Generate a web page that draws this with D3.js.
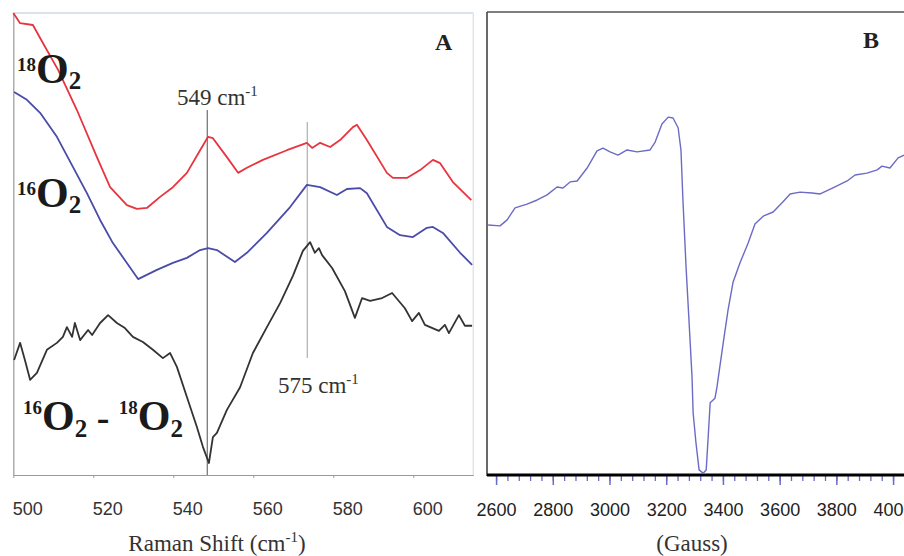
<!DOCTYPE html>
<html>
<head>
<meta charset="utf-8">
<script src="https://cdn.jsdelivr.net/npm/d3@7"></script>
<style>
  body { margin: 0; background: #fff; }
  svg { display: block; }
  text { white-space: pre; }
</style>
</head>
<body>
<div id="chart"></div>
<script>
// ---- panel A data: Raman shift (cm-1), intensity (arb. units) ----
var spectrum18 = [[500,100],[501.7,97.8],[504.9,97.4],[507.4,93.5],[511.2,87.7],[515.9,79.0],[520.9,68.8],[524.2,62.3],
  [528.4,58.4],[530.9,57.6],[533.4,57.8],[536.7,60.2],[539.9,62.3],[543.4,65.4],[546.7,70.3],[548.7,73.2],[549.9,72.9],
  [553.4,68.8],[556.2,65.4],[558.4,66.5],[562.4,68.2],[568.4,70.3],[573.4,71.9],[574.7,70.8],[576.7,71.9],[579.2,71.0],
  [581.7,72.5],[584.9,75.3],[585.9,75.8],[588.4,72.5],[593.4,65.4],[594.9,64.3],[598.4,64.3],[601.7,66.0],[604.9,68.2],
  [606.7,67.5],[609.9,63.4],[614.5,59.5]];
var spectrum16 = [[500.2,82.9],[503.4,81.2],[506.7,78.4],[510.9,73.2],[514.9,66.7],[518.4,61.0],[521.7,55.2],[524.9,50.2],
  [528.4,45.9],[531.2,42.4],[535.9,44.4],[539.9,45.9],[543.4,47.0],[546.7,48.7],[548.7,49.1],[550.9,48.7],[555.4,46.1],
  [558.4,48.1],[563.4,52.4],[569.2,58.0],[573.4,62.8],[576.7,62.3],[580.9,60.6],[583.4,61.9],[586.7,62.1],[588.4,61.0],
  [593.4,53.7],[596.7,51.9],[599.9,51.5],[603.4,53.5],[604.9,53.7],[607.4,52.4],[611.7,48.1],[614.7,45.5]];
var spectrumDiff = [[500.2,24.9],[501.7,28.6],[502.9,24.9],[504.2,20.6],[505.9,22.1],[508.4,27.1],[510.9,28.6],[512.4,29.9],
  [513.4,32.0],[514.7,29.9],[515.4,32.9],[516.7,29.2],[518.7,31.4],[519.7,30.3],[521.7,32.9],[523.7,34.6],[525.9,32.9],
  [527.9,31.8],[529.9,29.9],[532.4,28.8],[534.9,27.1],[537.4,25.3],[539.2,26.4],[540.9,23.4],[543.4,16.9],[545.9,10.4],
  [547.4,6.1],[548.9,2.6],[549.9,8.2],[550.9,9.1],[553.4,14.1],[556.7,19.0],[559.9,26.4],[563.4,32.0],[566.7,37.2],
  [569.9,43.1],[572.4,48.5],[574.2,50.4],[575.4,48.1],[576.4,49.1],[577.2,47.6],[579.7,44.8],[582.9,39.8],[585.4,34.0],
  [587.2,38.3],[589.2,37.7],[592.2,38.3],[594.7,39.4],[597.9,36.1],[599.7,33.3],[601.4,35.1],[602.9,32.5],[606.4,31.2],
  [607.9,32.5],[608.9,30.7],[611.4,34.6],[612.9,32.3],[614.7,32.3]];
var ramanTicks = [500, 520, 540, 560, 580, 600];
// marker lines: position, from, to (intensity units), label
var markerPos = [548.5, 573.5];
var markerSpan = [[0, 79], [25.3, 76.4]];
var markerText = ["549", "575"];

// ---- panel B data: field (Gauss), EPR signal (arb. units) ----
var eprField = [2572,2614,2639,2667,2709,2745,2780,2815,2836,2861,2886,2921,2956,2977,3002,3030,3062,3097,3143,3161,
  3185,3207,3224,3242,3252,3259,3270,3277,3284,3291,3295,3305,3316,3330,3341,3348,3355,3372,3379,3390,3404,3418,3436,
  3460,3489,3513,3542,3577,3612,3637,3672,3714,3743,3788,3838,3866,3908,3944,3961,3989,4018,4039];
var eprSignal = [54.0,53.8,55.1,57.7,58.5,59.4,60.5,62.2,62.0,63.3,63.5,66.3,70.0,70.6,69.8,69.1,70.2,69.8,70.2,71.9,
  75.8,77.3,77.1,75.0,70.2,59.4,44.9,37.1,29.2,21.2,13.4,6.9,1.1,0.4,1.1,8.2,15.6,16.6,19.0,23.8,29.8,35.6,41.7,
  45.8,50.1,54.2,55.9,56.8,59.0,60.7,61.1,60.9,60.7,62.0,63.5,64.8,65.2,65.9,66.7,66.3,68.5,69.1];
var gaussTicks = [2600, 2800, 3000, 3200, 3400, 3600, 3800, 4000];

var width = 904, height = 556;
var svg = d3.select("#chart").append("svg").attr("width", width).attr("height", height);
svg.append("rect").attr("width", width).attr("height", height).attr("fill", "#fff");

var serif = "'Liberation Serif', 'Times New Roman', serif";
var sans = "'Liberation Sans', Arial, sans-serif";

// ================= panel A =================
var xA = d3.scaleLinear().domain([500, 615]).range([13.3, 473.3]);
var yA = d3.scaleLinear().domain([0, 100]).range([475, 13]);

svg.append("line").attr("x1", 13.3).attr("x2", 473.3).attr("y1", 13).attr("y2", 13)
   .attr("stroke", "#cfdae2").attr("stroke-width", 1.5);
svg.append("line").attr("x1", 473.3).attr("x2", 473.3).attr("y1", 13).attr("y2", 475)
   .attr("stroke", "#dfe5ea").attr("stroke-width", 1.5);

var axA = svg.append("g").attr("transform", "translate(0,475)")
  .call(d3.axisBottom(xA).tickValues(ramanTicks).tickSize(3).tickSizeOuter(0).tickPadding(24));
axA.select(".domain").attr("stroke", "#999").attr("stroke-width", 1.2);
axA.selectAll(".tick line").attr("stroke", "#999");
axA.selectAll(".tick text").attr("dx", 14).attr("font-size", 18).attr("font-family", sans).attr("fill", "#333");

var ayA = svg.append("g").attr("transform", "translate(13.3,0)")
  .call(d3.axisLeft(yA).tickValues([]).tickSizeOuter(0));
ayA.select(".domain").attr("stroke", "#999").attr("stroke-width", 1.2);

// marker lines
svg.selectAll(".marker").data(markerPos).enter().append("line")
  .attr("class", "marker")
  .attr("x1", function(d) { return xA(d); }).attr("x2", function(d) { return xA(d); })
  .attr("y1", function(d, i) { return yA(markerSpan[i][0]); })
  .attr("y2", function(d, i) { return yA(markerSpan[i][1]); })
  .attr("stroke", function(d, i) { return i == 0 ? "#7a7a7a" : "#b5b5b5"; })
  .attr("stroke-width", 1.3);

var lineA = d3.line().x(function(d) { return xA(d[0]); }).y(function(d) { return yA(d[1]); });
[[spectrum18, "#e8343f"], [spectrum16, "#4b4ba8"], [spectrumDiff, "#333"]].forEach(function(s) {
  svg.append("path").datum(s[0]).attr("d", lineA).attr("fill", "none")
     .attr("stroke", s[1]).attr("stroke-width", 1.8).attr("stroke-linejoin", "round");
});

// cm-1 labels
function cmLabel(x, y, num) {
  var t = svg.append("text").attr("x", x).attr("y", y).attr("font-family", serif)
    .attr("font-size", 23).attr("fill", "#333");
  t.append("tspan").text(num + " cm");
  t.append("tspan").attr("font-size", 15).attr("dy", -9).text("-1");
}
cmLabel(177, 105, markerText[0]);
cmLabel(278, 393, markerText[1]);

// isotope labels
function isoLabel(x, parts) {
  var t = svg.append("text").attr("x", x).attr("font-family", serif).attr("font-weight", "bold").attr("fill", "#1a1a1a");
  parts.forEach(function(p) {
    t.append("tspan").attr("y", p[2]).attr("font-size", p[1]).text(p[0]);
  });
}
isoLabel(17, [["18", 19, 71], ["O", 42, 83], ["2", 25, 89]]);
isoLabel(17, [["16", 19, 195], ["O", 42, 207], ["2", 25, 213]]);
isoLabel(23, [["16", 19, 414], ["O", 42, 430], ["2", 25, 437], [" - ", 38, 430], ["18", 19, 414], ["O", 42, 430], ["2", 25, 437]]);

svg.append("text").attr("x", 435).attr("y", 50).attr("font-family", serif).attr("font-weight", "bold")
   .attr("font-size", 24).attr("fill", "#222").text("A");

svg.append("text").attr("x", 217).attr("y", 551).attr("text-anchor", "middle").attr("font-family", serif)
   .attr("font-size", 23).attr("fill", "#333")
   .call(function(t) {
     t.append("tspan").text("Raman Shift (cm");
     t.append("tspan").attr("font-size", 15).attr("dy", -9).text("-1");
     t.append("tspan").attr("dy", 9).text(")");
   });

// ================= panel B =================
var xB = d3.scaleLinear().domain([2568, 4040]).range([487, 904.4]);
var yB = d3.scaleLinear().domain([0, 100]).range([475, 12]);

svg.append("line").attr("x1", 487).attr("x2", 906).attr("y1", 12).attr("y2", 12)
   .attr("stroke", "#555").attr("stroke-width", 1.6);
svg.append("line").attr("x1", 487).attr("x2", 487).attr("y1", 12).attr("y2", 476)
   .attr("stroke", "#444").attr("stroke-width", 1.6);

var minor = svg.append("g").attr("transform", "translate(0,476)")
  .call(d3.axisBottom(xB).tickValues(d3.range(2600, 4041, 40)).tickSize(5).tickFormat(""));
minor.select(".domain").remove();
minor.selectAll(".tick line").attr("stroke", "#6a6ac8").attr("stroke-width", 1.3);

var axB = svg.append("g").attr("transform", "translate(0,476)")
  .call(d3.axisBottom(xB).tickValues(gaussTicks).tickSize(9).tickPadding(18).tickFormat(d3.format("d")));
axB.select(".domain").remove();
axB.selectAll(".tick line").attr("stroke", "#6a6ac8").attr("stroke-width", 1.5);
axB.selectAll(".tick text").attr("font-size", 18).attr("font-family", sans).attr("fill", "#222");

svg.append("line").attr("x1", 487).attr("x2", 906).attr("y1", 475).attr("y2", 475)
   .attr("stroke", "#000").attr("stroke-width", 3);

var eprPoints = eprField.map(function(f, i) { return [f, eprSignal[i]]; });
svg.append("path").datum(eprPoints)
   .attr("d", d3.line().x(function(d) { return xB(d[0]); }).y(function(d) { return yB(d[1]); }))
   .attr("fill", "none").attr("stroke", "#6b6bc6").attr("stroke-width", 1.4).attr("stroke-linejoin", "round");

svg.append("text").attr("x", 863).attr("y", 48).attr("font-family", serif).attr("font-weight", "bold")
   .attr("font-size", 24).attr("fill", "#222").text("B");

svg.append("text").attr("x", 692).attr("y", 551).attr("text-anchor", "middle").attr("font-family", serif)
   .attr("font-size", 23).attr("fill", "#333").text("(Gauss)");
</script>
</body>
</html>
